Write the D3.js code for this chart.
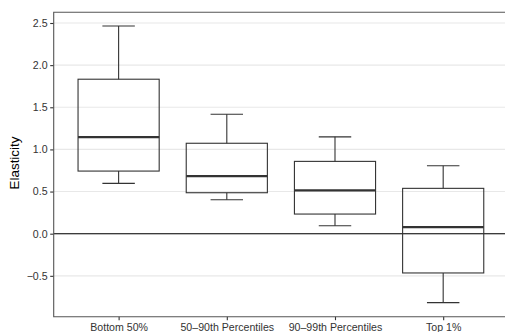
<!DOCTYPE html>
<html>
<head>
<meta charset="utf-8">
<script src="https://cdn.jsdelivr.net/npm/d3@7"></script>
<style>
  html, body { margin: 0; padding: 0; background: #fff; }
  svg { display: block; font-family: "Liberation Sans", Arial, sans-serif; }
</style>
</head>
<body>
<svg id="chart" width="505" height="332"></svg>
<script>
// Income groups and their elasticity box-plot summaries
const categories = ["Bottom 50%", "50\u201390th Percentiles", "90\u201399th Percentiles", "Top 1%"];
const whiskerLow  = [0.597, 0.403, 0.095, -0.818];
const q1          = [0.743, 0.486, 0.233, -0.466];
const median      = [1.146, 0.684, 0.514, 0.079];
const q3          = [1.833, 1.073, 0.858, 0.538];
const whiskerHigh = [2.464, 1.418, 1.149, 0.806];
const yTicks = [-0.5, 0, 0.5, 1, 1.5, 2, 2.5];
const yTitle = "Elasticity";

const svg = d3.select("#chart");
const panel = { left: 53.7, right: 508.1, top: 12.3, bottom: 316.7 };

const x = d3.scalePoint().domain(categories).range([panel.left, panel.right]).padding(0.6);
const y = d3.scaleLinear().domain([-0.985, 2.627]).range([panel.bottom, panel.top]);
const step = x.step();
const boxW = step * 0.75;
const capW = step * 0.3;

// grid lines
svg.append("g").selectAll("line").data(yTicks).join("line")
  .attr("x1", panel.left).attr("x2", panel.right)
  .attr("y1", d => y(d)).attr("y2", d => y(d))
  .attr("stroke", "#e8e8e8").attr("stroke-width", 1.1);

// reference line at zero
svg.append("line")
  .attr("x1", panel.left).attr("x2", panel.right)
  .attr("y1", y(0)).attr("y2", y(0))
  .attr("stroke", "#000").attr("stroke-width", 1.1);

// boxes
const data = categories.map((c, i) => ({ c, lo: whiskerLow[i], q1: q1[i], med: median[i], q3: q3[i], hi: whiskerHigh[i] }));
const g = svg.append("g").selectAll("g").data(data).join("g");
const col = "#333333";
g.append("line").attr("x1", d => x(d.c)).attr("x2", d => x(d.c))
  .attr("y1", d => y(d.hi)).attr("y2", d => y(d.q3)).attr("stroke", col).attr("stroke-width", 1.1);
g.append("line").attr("x1", d => x(d.c)).attr("x2", d => x(d.c))
  .attr("y1", d => y(d.q1)).attr("y2", d => y(d.lo)).attr("stroke", col).attr("stroke-width", 1.1);
g.append("line").attr("x1", d => x(d.c) - capW / 2).attr("x2", d => x(d.c) + capW / 2)
  .attr("y1", d => y(d.hi)).attr("y2", d => y(d.hi)).attr("stroke", col).attr("stroke-width", 1.1);
g.append("line").attr("x1", d => x(d.c) - capW / 2).attr("x2", d => x(d.c) + capW / 2)
  .attr("y1", d => y(d.lo)).attr("y2", d => y(d.lo)).attr("stroke", col).attr("stroke-width", 1.1);
g.append("rect").attr("x", d => x(d.c) - boxW / 2).attr("width", boxW)
  .attr("y", d => y(d.q3)).attr("height", d => y(d.q1) - y(d.q3))
  .attr("fill", "none").attr("stroke", col).attr("stroke-width", 1.1);
g.append("line").attr("x1", d => x(d.c) - boxW / 2).attr("x2", d => x(d.c) + boxW / 2)
  .attr("y1", d => y(d.med)).attr("y2", d => y(d.med)).attr("stroke", col).attr("stroke-width", 2.2);

// axes
const fmt = d3.format(".1f");
const yAxis = svg.append("g").attr("transform", `translate(${panel.left},0)`)
  .call(d3.axisLeft(y).tickValues(yTicks).tickFormat(d => d < 0 ? "\u2212" + fmt(-d) : fmt(d))
    .tickSizeOuter(0).tickSize(3.5).tickPadding(2.6));
const xAxis = svg.append("g").attr("transform", `translate(0,${panel.bottom})`)
  .call(d3.axisBottom(x).tickSizeOuter(0).tickSize(3.5).tickPadding(3));
[yAxis, xAxis].forEach(a => {
  a.select(".domain").remove();
  a.selectAll(".tick line").attr("stroke", "#333").attr("stroke-width", 1.1);
  a.selectAll(".tick text").attr("fill", "#333").style("font-size", "10.6px")
    .style("font-family", "'Liberation Sans', Arial, sans-serif");
});

// panel frame: left, bottom and top edges
svg.append("path")
  .attr("d", `M${panel.right},${panel.top}H${panel.left}V${panel.bottom}H${panel.right}`)
  .attr("fill", "none").attr("stroke", "#555").attr("stroke-width", 1.1);

// y-axis title
svg.append("text")
  .attr("transform", `translate(18.5,163) rotate(-90)`)
  .attr("text-anchor", "middle")
  .style("font-size", "13.4px").attr("fill", "#000")
  .text(yTitle);
</script>
</body>
</html>
